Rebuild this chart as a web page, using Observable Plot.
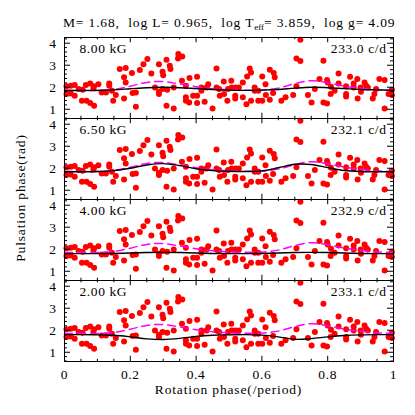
<!DOCTYPE html>
<html>
<head>
<meta charset="utf-8">
<script src="https://cdn.jsdelivr.net/npm/d3@7"></script>
<script src="https://cdn.jsdelivr.net/npm/@observablehq/plot@0.6"></script>
<style>
  body { margin: 0; background: #fff; }
  #wrap { position: relative; width: 415px; height: 415px; font-family: "Liberation Serif", serif; color: #000; }
  #wrap svg { position: absolute; left: 0; top: 0; }
  .lbl { position: absolute; z-index: 2; white-space: pre; font-size: 13.5px; line-height: 14px; letter-spacing: 0.85px; }
  #title { left: 63px; top: 16px; }
  #title sub { font-size: 9px; vertical-align: -3px; line-height: 0; letter-spacing: 0; }
  #xlab { left: 64px; width: 329px; text-align: center; top: 383px; }
  #ylab { left: 21px; top: 198px; transform: translate(-50%, -50%) rotate(-90deg); }
  svg text { letter-spacing: 0.6px; }
</style>
</head>
<body>
<div id="wrap">
  <div id="title" class="lbl">M= 1.68,  log L= 0.965,  log T<sub>eff</sub>= 3.859,  log g= 4.09</div>
  <div id="xlab" class="lbl">Rotation phase(/period)</div>
  <div id="ylab" class="lbl">Pulsation phase(rad)</div>
</div>
<script>
// ---- data ----
const fields = ["8.00 kG", "6.50 kG", "4.00 kG", "2.00 kG"];
const freqs = ["233.0 c/d", "232.1 c/d", "232.9 c/d", "233.1 c/d"];

// observed pulsation phases (same in every panel)
const obsPhase = [
  0.006,0.019,0.031,0.006,0.019,0.031,0.043,0.055,0.053,0.067,0.078,0.090,0.065,0.078,0.090,0.088,0.103,0.113,0.126,0.136,
  0.136,0.144,0.148,0.156,0.168,0.186,0.181,0.186,0.205,0.207,0.217,0.181,0.217,0.229,0.240,0.252,
  0.264,0.275,0.287,0.298,0.300,0.287,0.287,0.298,0.310,0.320,0.322,0.312,0.310,0.332,0.332,0.346,0.345,0.358,0.357,0.369,
  0.369,0.369,0.379,0.380,0.391,0.403,0.403,0.403,0.416,0.416,0.426,0.432,0.437,0.450,0.462,0.462,0.470,0.472,0.484,0.485,
  0.495,0.497,0.508,
  0.507,0.520,0.519,0.519,0.530,0.542,0.542,0.553,0.555,0.563,0.567,0.567,0.578,0.578,0.589,0.589,0.601,0.601,0.611,0.612,
  0.624,0.624,0.636,0.639,0.634,0.659,0.672,0.695,0.705,0.717,0.717,0.705,0.740,0.751,0.761,
  0.787,0.775,0.787,0.798,0.798,0.800,0.810,0.809,0.821,0.833,0.833,0.856,0.856,0.856,0.868,0.879,0.879,0.890,0.891,0.900,
  0.901,0.912,0.917,0.922,0.937,0.942,0.947,0.957,0.973,0.973,0.985,0.995,0.995
];
const obsValue = [
  2.04,2.07,2.10,1.69,1.72,1.61,1.92,1.89,1.39,1.39,1.28,1.16,2.10,2.17,2.04,1.95,2.14,1.76,1.76,2.17,
  2.07,1.84,1.39,1.65,2.83,2.87,2.45,2.22,2.65,1.74,1.76,1.49,1.11,2.78,3.05,3.28,
  2.63,1.99,3.05,2.70,2.55,1.80,1.69,1.92,3.25,2.98,2.83,1.89,1.16,1.99,1.04,3.51,3.31,3.40,2.29,2.07,
  1.54,1.39,1.31,2.42,1.61,2.48,1.61,1.28,1.84,1.99,1.34,1.99,2.14,1.04,2.85,1.99,1.92,1.61,2.26,1.69,
  1.39,1.92,1.99,
  2.29,1.99,1.61,1.49,1.99,1.54,2.22,1.23,2.49,2.85,2.67,1.39,1.99,1.84,1.84,1.39,2.49,1.39,2.14,1.65,
  2.80,1.43,2.65,2.45,1.74,1.39,1.54,1.65,3.31,3.19,4.16,2.04,1.65,1.31,1.92,
  3.20,2.37,1.31,1.26,2.33,2.22,2.02,1.69,1.84,2.17,2.63,1.69,1.58,2.04,2.48,2.17,1.99,2.37,1.49,1.99,
  1.80,2.22,2.07,1.99,1.49,1.69,1.92,2.37,2.33,1.04,1.69,1.89,1.65
];

// model curves sampled on a common phase grid
const gridPhase = [0,0.05,0.1,0.15,0.2,0.25,0.3,0.35,0.4,0.45,0.5,0.55,0.6,0.65,0.7,0.75,0.8,0.85,0.9,0.95,1];
const magentaCurve = [1.86,1.85,1.85,1.90,2.05,2.22,2.26,2.15,2.02,1.93,1.88,1.86,1.87,1.96,2.16,2.30,2.20,2.06,1.95,1.88,1.86];
const model800 = [1.85,1.85,1.86,1.88,1.93,1.98,2.00,1.98,1.94,1.90,1.87,1.86,1.87,1.90,1.96,2.00,1.98,1.94,1.90,1.88,1.86];
const model650 = [1.84,1.84,1.85,1.89,2.00,2.15,2.21,2.12,1.98,1.89,1.86,1.85,1.88,2.02,2.18,2.17,2.03,1.90,1.85,1.84,1.84];
const model400 = [1.80,1.80,1.80,1.81,1.83,1.85,1.86,1.85,1.83,1.81,1.80,1.80,1.81,1.83,1.85,1.86,1.85,1.83,1.81,1.80,1.80];
const model200 = [1.80,1.80,1.79,1.77,1.70,1.61,1.58,1.63,1.72,1.77,1.79,1.80,1.78,1.70,1.59,1.62,1.70,1.76,1.79,1.80,1.80];

const xMajor = [0, 0.2, 0.4, 0.6, 0.8, 1];
const xMinor = [0.05,0.1,0.15,0.25,0.3,0.35,0.45,0.5,0.55,0.65,0.7,0.75,0.85,0.9,0.95];
const yMajor = [1, 2, 3, 4];
const yMinor = [0.6,0.8,1.2,1.4,1.6,1.8,2.2,2.4,2.6,2.8,3.2,3.4,3.6,3.8,4.2];
const yDomain = [0.58, 4.26];

// ---- build tables ----
const models = [model800, model650, model400, model200];
const pts = [], mag = [], mod = [], labels = [];
fields.forEach((f, i) => {
  obsPhase.forEach((p, j) => pts.push({panel: f, x: p, y: obsValue[j]}));
  gridPhase.forEach((p, j) => mag.push({panel: f, x: p, y: magentaCurve[j]}));
  gridPhase.forEach((p, j) => mod.push({panel: f, x: p, y: models[i][j]}));
  labels.push({panel: f, field: f, freq: freqs[i]});
});

const W = 415, H = 415, ML = 64, MR = 22, MT = 35, MB = 53;
const plotW = W - ML - MR;
const panelH = (H - MT - MB) / fields.length;
const majL = 6, minL = 3;

const chart = Plot.plot({
  width: W, height: H,
  marginLeft: ML, marginRight: MR, marginTop: MT, marginBottom: MB,
  style: {fontFamily: "'Liberation Serif', serif", fontSize: "13px", background: "transparent", color: "black"},
  x: {domain: [0, 1]},
  y: {domain: yDomain},
  fy: {domain: fields, padding: 0, axis: null, label: null},
  marks: [
    Plot.dot(pts, {x: "x", y: "y", fy: "panel", r: 3, fill: "#ff0000"}),
    Plot.line(mag, {x: "x", y: "y", fy: "panel", stroke: "#ff00ff", strokeWidth: 1.5, strokeDasharray: "8,5", curve: "catmull-rom"}),
    Plot.line(mod, {x: "x", y: "y", fy: "panel", stroke: "#000", strokeWidth: 1.4, curve: "catmull-rom"}),
    // inside ticks, top and bottom of each panel
    Plot.tickX(xMajor, {x: d => d, insetBottom: panelH - majL, stroke: "#000"}),
    Plot.tickX(xMajor, {x: d => d, insetTop: panelH - majL, stroke: "#000"}),
    Plot.tickX(xMinor, {x: d => d, insetBottom: panelH - minL, stroke: "#000"}),
    Plot.tickX(xMinor, {x: d => d, insetTop: panelH - minL, stroke: "#000"}),
    // inside ticks, left and right
    Plot.tickY(yMajor, {y: d => d, insetRight: plotW - majL, stroke: "#000"}),
    Plot.tickY(yMajor, {y: d => d, insetLeft: plotW - majL, stroke: "#000"}),
    Plot.tickY(yMinor, {y: d => d, insetRight: plotW - minL, stroke: "#000"}),
    Plot.tickY(yMinor, {y: d => d, insetLeft: plotW - minL, stroke: "#000"}),
    Plot.frame({stroke: "#000", strokeWidth: 1}),
    Plot.axisX({ticks: xMajor, tickSize: 0, tickPadding: 8, anchor: "bottom", label: null,
      tickFormat: d => (d === 0 ? "0" : d === 1 ? "1" : d3.format(".1f")(d)), fontSize: 13.5}),
    Plot.axisY({ticks: yMajor, tickSize: 0, tickPadding: 8, anchor: "left", label: null, tickFormat: d3.format("d"), fontSize: 13.5}),
    Plot.text(labels, {fy: "panel", text: "field", frameAnchor: "top-left", textAnchor: "start", lineAnchor: "top", dx: 15, dy: 6, fontSize: 13.5}),
    Plot.text(labels, {fy: "panel", text: "freq", frameAnchor: "top-right", textAnchor: "end", lineAnchor: "top", dx: -7, dy: 6, fontSize: 13.5})
  ]
});

document.getElementById("wrap").appendChild(chart);
</script>
</body>
</html>
